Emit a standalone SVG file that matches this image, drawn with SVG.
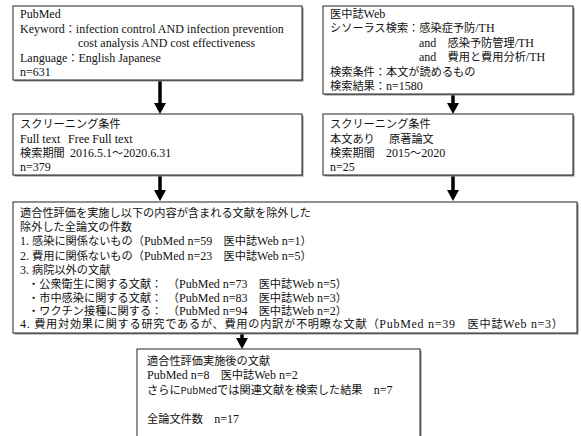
<svg xmlns="http://www.w3.org/2000/svg" width="581" height="436" viewBox="0 0 581 436">
<style>
.box{fill:#fff;stroke:#222;stroke-width:1}
.sh{fill:#888;stroke:none}
text{font-family:"Liberation Serif","Noto Sans CJK JP",serif;font-size:12px;fill:#111}
.j{font-size:11.2px}
.g{font-family:"Noto Sans CJK JP",sans-serif;font-size:9.5px}
.st{stroke:#000;stroke-width:3.5}
.hd{fill:#000}
</style>
<rect width="581" height="436" fill="#fff"/>
<g id="connectors">
<line class="st" x1="160" y1="81" x2="160" y2="104"/><polygon class="hd" points="154,103 166,103 160,114"/>
<line class="st" x1="453" y1="95" x2="453" y2="104"/><polygon class="hd" points="447,103 459,103 453,114"/>
<line class="st" x1="160" y1="176" x2="160" y2="191"/><polygon class="hd" points="154,190 166,190 160,201"/>
<line class="st" x1="453" y1="176" x2="453" y2="191"/><polygon class="hd" points="447,190 459,190 453,201"/>
<line class="st" x1="242" y1="334" x2="242" y2="339"/><polygon class="hd" points="236,338 248,338 242,349"/>
</g>
<g id="n1">
<rect class="sh" x="14.5" y="7.5" width="289" height="74"/>
<rect class="box" x="13" y="6" width="289" height="74"/>
<text x="20" y="18">PubMed</text>
<text x="20" y="33">Keyword<tspan class="j">：</tspan>infection control AND infection prevention</text>
<text x="78" y="47">cost analysis AND cost effectiveness</text>
<text x="20" y="62">Language<tspan class="j">：</tspan>English Japanese</text>
<text x="20" y="76">n=631</text>
</g>
<g id="n2">
<rect class="sh" x="324.5" y="7.5" width="250" height="88"/>
<rect class="box" x="323" y="6" width="250" height="88"/>
<text x="330" y="18"><tspan class="j">医中誌</tspan>Web</text>
<text x="330" y="32"><tspan class="j">シソーラス検索：感染症予防</tspan>/TH</text>
<text x="419" y="47">and<tspan class="j">　感染予防管理</tspan>/TH</text>
<text x="419" y="61">and<tspan class="j">　費用と費用分析</tspan>/TH</text>
<text x="330" y="76"><tspan class="j">検索条件：本文が読めるもの</tspan></text>
<text x="330" y="90"><tspan class="j">検索結果：</tspan>n=1580</text>
</g>
<g id="n3">
<rect class="sh" x="14.5" y="115.5" width="289" height="61"/>
<rect class="box" x="13" y="114" width="289" height="61"/>
<text x="20" y="128"><tspan class="j">スクリーニング条件</tspan></text>
<text x="20" y="143">Full text</text>
<text x="68" y="143">Free Full text</text>
<text x="20" y="157"><tspan class="j">検索期間</tspan></text>
<text x="70" y="157" font-size="12.5">2016.5.1<tspan class="j">～</tspan>2020.6.31</text>
<text x="20" y="171">n=379</text>
</g>
<g id="n4">
<rect class="sh" x="324.5" y="115.5" width="250" height="61"/>
<rect class="box" x="323" y="114" width="250" height="61"/>
<text x="330" y="128"><tspan class="j">スクリーニング条件</tspan></text>
<text x="330" y="143"><tspan class="j">本文あり</tspan></text>
<text x="389" y="143"><tspan class="j">原著論文</tspan></text>
<text x="330" y="157"><tspan class="j">検索期間</tspan></text>
<text x="386" y="157">2015<tspan class="j">～</tspan>2020</text>
<text x="330" y="171">n=25</text>
</g>
<g id="n5">
<rect class="sh" x="14.5" y="203.5" width="564" height="131"/>
<rect class="box" x="13" y="202" width="564" height="131"/>
<text x="20" y="217"><tspan class="j">適合性評価を実施し以下の内容が含まれる文献を除外した</tspan></text>
<text x="20" y="231"><tspan class="j">除外した全論文の件数</tspan></text>
<text x="20" y="245">1.  <tspan class="j">感染に関係ないもの（</tspan>PubMed n=59<tspan class="j">　医中誌</tspan>Web n=1<tspan class="j">）</tspan></text>
<text x="20" y="260">2.  <tspan class="j">費用に関係ないもの（</tspan>PubMed n=23<tspan class="j">　医中誌</tspan>Web n=5<tspan class="j">）</tspan></text>
<text x="20" y="274">3.  <tspan class="j">病院以外の文献</tspan></text>
<text x="28" y="288"><tspan class="j">・公衆衛生に関する文献：　（</tspan>PubMed n=73<tspan class="j">　医中誌</tspan>Web n=5<tspan class="j">）</tspan></text>
<text x="28" y="302"><tspan class="j">・市中感染に関する文献：　（</tspan>PubMed n=83<tspan class="j">　医中誌</tspan>Web n=3<tspan class="j">）</tspan></text>
<text x="28" y="315"><tspan class="j">・ワクチン接種に関する：　（</tspan>PubMed n=94<tspan class="j">　医中誌</tspan>Web n=2<tspan class="j">）</tspan></text>
<text x="20" y="328" textLength="543">4.  <tspan class="j">費用対効果に関する研究であるが、費用の内訳が不明瞭な文献（</tspan>PubMed n=39<tspan class="j">　医中誌</tspan>Web n=3<tspan class="j">）</tspan></text>
</g>
<g id="n6">
<rect class="sh" x="138.5" y="350.5" width="283" height="100"/>
<rect class="box" x="137" y="349" width="283" height="100"/>
<text x="147" y="365"><tspan class="j">適合性評価実施後の文献</tspan></text>
<text x="147" y="379">PubMed n=8<tspan class="j">　医中誌</tspan>Web n=2</text>
<text x="147" y="394"><tspan class="j" font-size="10.4">さらに</tspan><tspan class="g">PubMed</tspan><tspan class="j" font-size="10.4">では関連文献を検索した結果　</tspan>n=7</text>
<text x="147" y="423"><tspan class="j">全論文件数　</tspan>n=17</text>
</g>
</svg>
